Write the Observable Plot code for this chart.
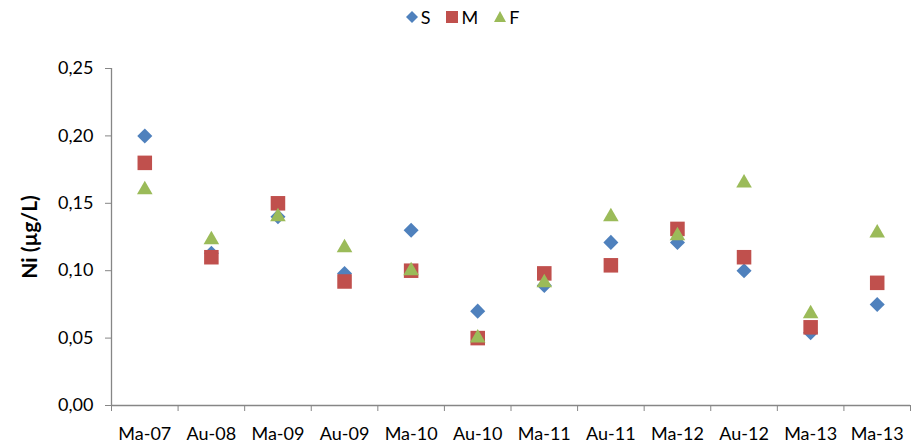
<!DOCTYPE html>
<html><head><meta charset="utf-8">
<script src="https://cdn.jsdelivr.net/npm/d3@7"></script>
<script src="https://cdn.jsdelivr.net/npm/@observablehq/plot@0.6"></script>
<style>
body{margin:0;background:#fff;font-family:Lato,"Open Sans",sans-serif;}
#legend{height:30px;display:flex;justify-content:center;align-items:center;font-size:18px;color:#000;padding-left:4px;padding-top:4px;box-sizing:border-box}
#legend span{display:inline-flex;align-items:center;margin:0 8px}
#legend svg{margin-right:3px}
</style></head><body>
<div id="legend"></div>
<div id="chart"></div>
<script>
const labels = ["Ma-07","Au-08","Ma-09","Au-09","Ma-10","Au-10","Ma-11","Au-11","Ma-12","Au-12","Ma-13","Ma-13"];
const S = [0.200,0.113,0.140,0.098,0.130,0.070,0.089,0.121,0.121,0.100,0.054,0.075];
const M = [0.180,0.110,0.150,0.092,0.100,0.050,0.098,0.104,0.131,0.110,0.058,0.091];
const F = [0.160,0.123,0.140,0.117,0.100,0.050,0.091,0.140,0.126,0.165,0.068,0.128];
const yTicks = [0,0.05,0.10,0.15,0.20,0.25];
const colors = {S:"#4F81BD", M:"#C0504D", F:"#9BBB59"};

const rows = (arr) => arr.map((v,i)=>({i:i+0.5, v}));
const fmt = d => d3.format(".2f")(d).replace(".", ",");

const chart = Plot.plot({
  width: 921, height: 415,
  marginLeft: 111, marginRight: 11, marginTop: 38, marginBottom: 40,
  style: {fontFamily: "Lato, 'Open Sans', sans-serif", fontSize: "18px", color:"#000", background:"#fff"},
  x: {domain: [0, labels.length], axis: null},
  y: {domain: [0, 0.25], axis: null},
  marks: [
    Plot.ruleY([0], {stroke:"#868686", strokeWidth:1.3}),
    Plot.ruleX([0], {stroke:"#868686", strokeWidth:1.3}),
    Plot.axisY({ticks: yTicks, tickFormat: fmt, tickSize: 6, tickPadding: 12, stroke:"#868686", fill:"#000", fontSize:18, label:null}),
    Plot.axisX({ticks: d3.range(0, labels.length+1), tickFormat: () => "", tickSize: 6, stroke:"#868686", label:null}),
    Plot.axisX({ticks: labels.map((_,i)=>i+0.5), tickFormat: t => labels[Math.round(t-0.5)], tickSize: 0, tickPadding: 22, fill:"#000", fontSize:18, label:null}),
    Plot.text(["Ni (µg/L)"], {frameAnchor:"left", textAnchor:"middle", dx:-81, rotate:-90, fontWeight:"bold", fontSize:21, fill:"#000"}),
    Plot.dot(rows(S), {x:"i", y:"v", symbol:"square", rotate:45, r:6, fill:colors.S, stroke:"none"}),
    Plot.dot(rows(M), {x:"i", y:"v", symbol:"square", r:8.2, fill:colors.M, stroke:"none"}),
    Plot.dot(rows(F), {x:"i", y:"v", symbol:"triangle", r:5.8, fill:colors.F, stroke:"none"})
  ]
});
document.getElementById("chart").appendChild(chart);

const leg = document.getElementById("legend");
const items = [
  {name:"S", color:colors.S, svg:'<polygon points="6,0 12,6 6,12 0,6"/>'},
  {name:"M", color:colors.M, svg:'<rect x="0" y="0" width="12" height="12"/>'},
  {name:"F", color:colors.F, svg:'<polygon points="6,0 12,11 0,11"/>'}
];
for (const it of items) {
  const s = document.createElement("span");
  s.innerHTML = `<svg width="12" height="12" viewBox="0 0 12 12" fill="${it.color}">${it.svg}</svg>${it.name}`;
  leg.appendChild(s);
}
</script>
</body></html>
